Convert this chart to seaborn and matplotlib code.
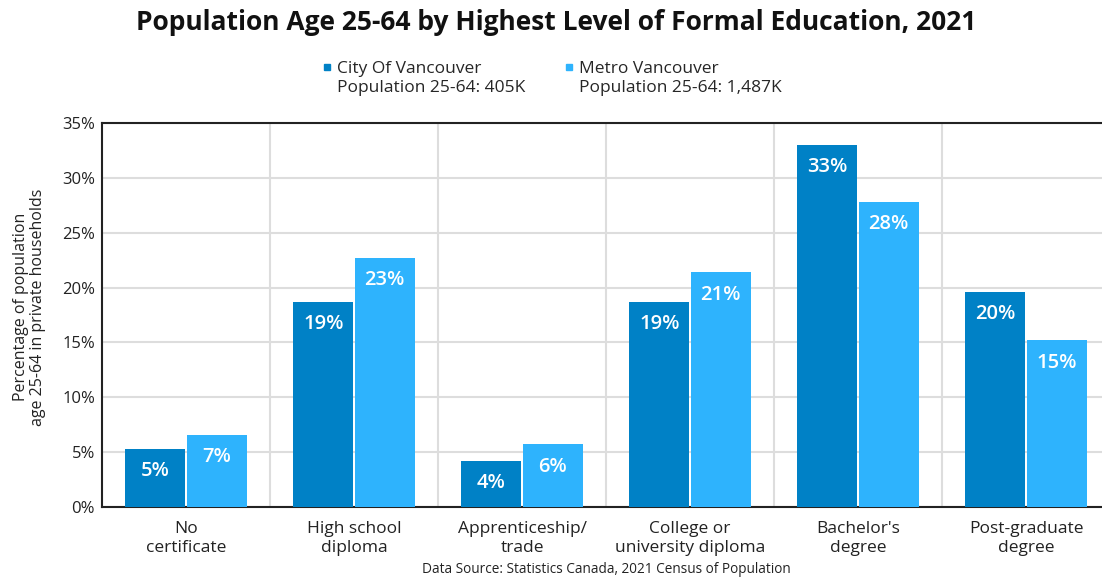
import matplotlib
matplotlib.use("Agg")
import matplotlib.pyplot as plt
from matplotlib.lines import Line2D
import seaborn as sns
import pandas as pd

categories = ["No\ncertificate", "High school\ndiploma", "Apprenticeship/\ntrade",
              "College or\nuniversity diploma", "Bachelor's\ndegree", "Post-graduate\ndegree"]
series_names = ["City Of Vancouver", "Metro Vancouver"]
legend_sub = ["Population 25-64: 405K", "Population 25-64: 1,487K"]
city = [5.3, 18.7, 4.2, 18.7, 33.0, 19.6]
metro = [6.6, 22.7, 5.7, 21.4, 27.8, 15.2]
yticks = [0, 5, 10, 15, 20, 25, 30, 35]

colors = ["#0081c6", "#2eb3fd"]

sns.set_theme(style="white")
plt.rcParams["font.family"] = ["Open Sans", "DejaVu Sans"]

df = pd.DataFrame({
    "category": categories * 2,
    "series": [series_names[0]] * len(categories) + [series_names[1]] * len(categories),
    "value": city + metro,
})

fig = plt.figure(figsize=(11.02, 5.79), dpi=100)
ax = fig.add_axes([0.0926, 0.1244, 0.9147, 0.6632])

sns.barplot(data=df, x="category", y="value", hue="series", order=categories,
            hue_order=series_names, palette=colors, width=0.73, gap=0.02,
            saturation=1, legend=False, ax=ax, edgecolor="none", zorder=3)

for cont in ax.containers:
    for bar in cont:
        h = bar.get_height()
        ax.annotate(f"{h:.0f}%", (bar.get_x() + bar.get_width() / 2, h),
                    xytext=(0, -9), textcoords="offset points",
                    ha="center", va="top", color="white", fontsize=14.5,
                    fontweight="semibold", zorder=4)

ax.set_ylim(0, 35)
ax.set_yticks(yticks)
ax.set_yticklabels([f"{t}%" for t in yticks], fontsize=12, color="#222222")
ax.set_xlim(-0.5, len(categories) - 0.5)
ax.set_xticks(range(len(categories)))
ax.set_xticklabels(categories, fontsize=12.5, color="#222222", linespacing=1.3)
ax.set_xticks([i + 0.5 for i in range(len(categories) - 1)], minor=True)
ax.tick_params(axis="both", which="both", length=0)
ax.tick_params(axis="x", pad=10)
ax.tick_params(axis="y", pad=5)
ax.grid(True, axis="y", color="#dddddd", linewidth=1.5, zorder=0)
ax.grid(True, axis="x", which="minor", color="#dddddd", linewidth=1.5, zorder=0)
ax.set_axisbelow(True)
ax.spines["right"].set_visible(False)
for s in ["left", "bottom", "top"]:
    ax.spines[s].set_color("#222222")
    ax.spines[s].set_linewidth(1.5)

ax.set_xlabel("")
ax.set_ylabel("Percentage of population\nage 25-64 in private households",
              fontsize=11.5, color="#222222", linespacing=1.05)
ax.yaxis.set_label_coords(-0.056, 0.52)

fig.suptitle("Population Age 25-64 by Highest Level of Formal Education, 2021",
             x=0.505, y=0.985, fontsize=19, fontweight="bold", color="#111111")

handles = []
labels = []
for c, name, sub in zip(colors, series_names, legend_sub):
    handles.append(Line2D([0], [0], marker="s", linestyle="none", markersize=5,
                          markerfacecolor=c, markeredgecolor=c))
    labels.append(name)
    handles.append(Line2D([0], [0], linestyle="none", marker=None))
    labels.append(sub)
fig.legend(handles, labels, loc="upper center", bbox_to_anchor=(0.501, 0.922),
           ncol=2, frameon=False, fontsize=12.5, handlelength=0.5, handletextpad=0.3,
           columnspacing=2.3, labelspacing=0.15)

fig.text(0.55, 0.003, "Data Source: Statistics Canada, 2021 Census of Population",
         ha="center", va="bottom", fontsize=9.8, color="#222222")

fig.savefig("out.png", dpi=100)
